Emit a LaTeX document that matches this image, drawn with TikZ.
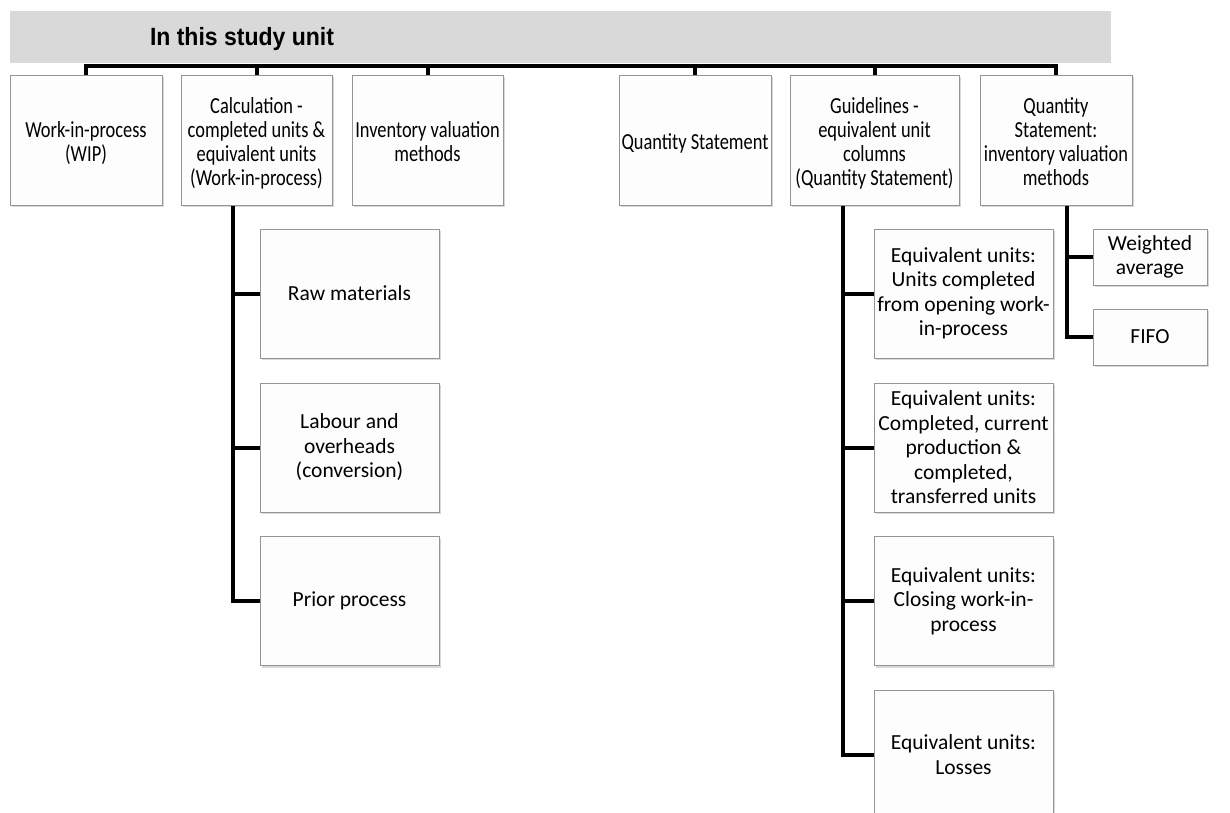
\documentclass[tikz,border=0pt]{standalone}
\usepackage{fontspec}
\usepackage{graphicx}
\setmainfont{Carlito}
\newfontfamily\headfont{Liberation Sans}
\usetikzlibrary{shadows}
\definecolor{headgray}{HTML}{D9D9D9}
\definecolor{boxline}{HTML}{959595}
\definecolor{boxfill}{HTML}{FDFDFD}
\newcommand\sqz[1]{\raisebox{-4.5pt}[\height][\depth]{\scalebox{0.8}[1]{\begin{tabular}{@{}c@{}}#1\end{tabular}}}}
\tikzset{
  box/.style={draw=boxline, line width=1pt, fill=boxfill, align=center, inner sep=1pt,
    drop shadow={opacity=0.3, shadow xshift=1.5pt, shadow yshift=-2pt}},
  topbox/.style={box, minimum height=130pt, font=\fontsize{23}{24}\selectfont},
  subbox/.style={box, minimum width=179pt, minimum height=129pt, font=\fontsize{21.5}{24.5}\selectfont},
  smallbox/.style={box, minimum width=114pt, minimum height=56pt, font=\fontsize{21.5}{24.5}\selectfont},
  conn/.style={line width=4pt, black, line join=miter},
}
\begin{document}
\begin{tikzpicture}[x=1pt, y=-1pt]
\useasboundingbox (0,0) rectangle (1230,812);
\clip (0,0) rectangle (1230,812);
\fill[white] (0,0) rectangle (1230,812);
% header
\node[fill=headgray, inner sep=0pt, minimum width=1101pt, minimum height=52pt] (header) at (560.5,37) {};
\node[anchor=base, inner sep=0pt, font=\headfont\bfseries\fontsize{25}{28}\selectfont] (headtext) at (242,45) {\scalebox{0.92}[1]{In this study unit}};
\coordinate (bary) at (0,66);
% top boxes
\node[topbox, minimum width=152pt] (b1) at (86,140) {\sqz{Work-in-process\\(WIP)}};
\node[topbox, minimum width=151pt] (b2) at (256.5,140) {\sqz{Calculation -\\completed units \&\\equivalent units\\(Work-in-process)}};
\node[topbox, minimum width=151pt] (b3) at (427.5,140) {\sqz{Inventory valuation\\methods}};
\node[topbox, minimum width=152pt] (b4) at (695,140) {\sqz{Quantity Statement}};
\node[topbox, minimum width=169pt] (b5) at (874.5,140) {\sqz{Guidelines -\\equivalent unit\\columns\\(Quantity Statement)}};
\node[topbox, minimum width=152pt] (b6) at (1056,140) {\sqz{Quantity\\Statement:\\inventory valuation\\methods}};
% children of b2
\node[subbox] (r1) at (349.5,293.5) {Raw materials};
\node[subbox] (r2) at (349.5,447.5) {Labour and\\overheads\\(conversion)};
\node[subbox] (r3) at (349.5,601) {Prior process};
% children of b5
\node[subbox] (g1) at (963.5,293.5) {Equivalent units:\\Units completed\\from opening work-\\in-process};
\node[subbox] (g2) at (963.5,447.5) {Equivalent units:\\Completed, current\\production \&\\completed,\\transferred units};
\node[subbox] (g3) at (963.5,601) {Equivalent units:\\Closing work-in-\\process};
\node[subbox] (g4) at (963.5,754.5) {Equivalent units:\\Losses};
% children of b6
\node[smallbox] (m1) at (1150,257) {Weighted\\average};
\node[smallbox] (m2) at (1150,337) {FIFO};
% top connectors
\draw[conn] (b1.north) -- (b1.north |- bary) -- (b6.north |- bary) -- (b6.north);
\foreach \b in {b2,b3,b4,b5} \draw[conn] (\b.north) -- (\b.north |- bary);
% b2 branch
\coordinate (t2) at (233,205);
\draw[conn] (t2 |- b2.south) |- (r3.west);
\draw[conn] (t2 |- r1.west) -- (r1.west);
\draw[conn] (t2 |- r2.west) -- (r2.west);
% b5 branch
\coordinate (t5) at (843,205);
\draw[conn] (t5 |- b5.south) |- (g4.west);
\foreach \g in {g1,g2,g3} \draw[conn] (t5 |- \g.west) -- (\g.west);
% b6 branch
\coordinate (t6) at (1067,205);
\draw[conn] (t6 |- b6.south) |- (m2.west);
\draw[conn] (t6 |- m1.west) -- (m1.west);
\end{tikzpicture}
\end{document}
